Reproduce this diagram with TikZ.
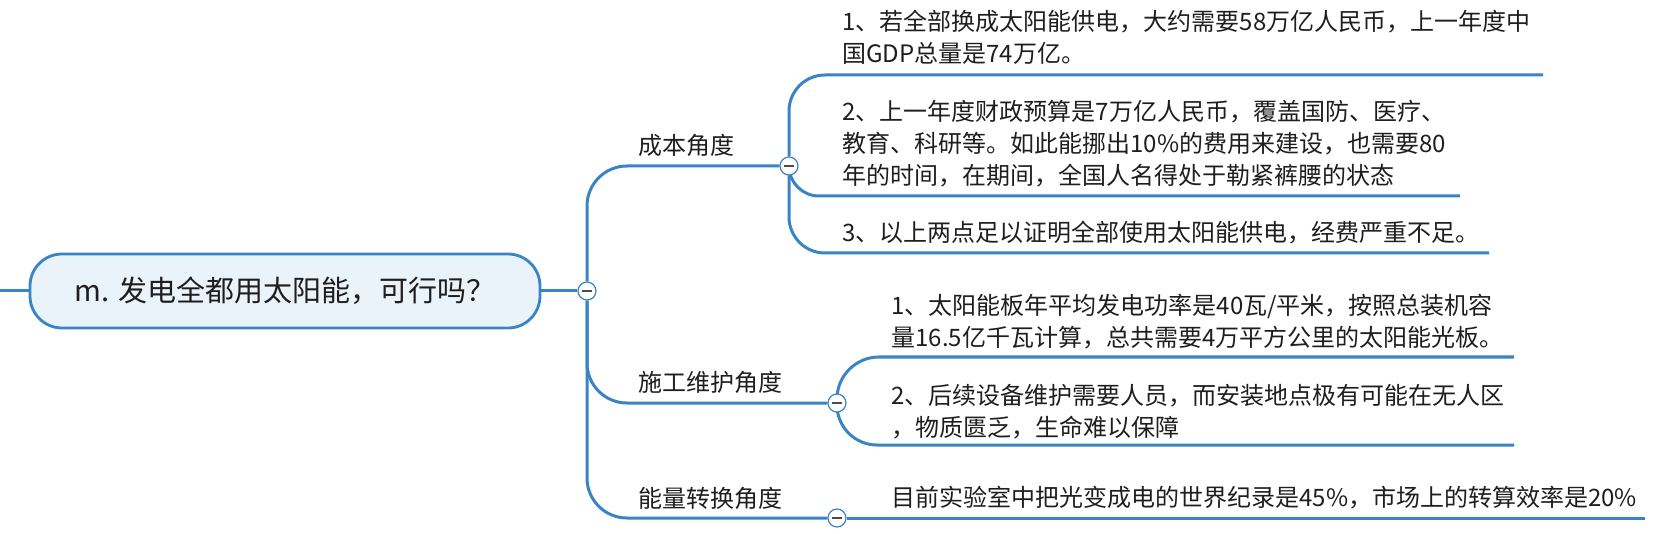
\documentclass[tikz,border=0pt]{standalone}
\usepackage{fontspec}
\setmainfont{Noto Sans CJK SC}
\usetikzlibrary{backgrounds}
\definecolor{mapblue}{HTML}{3A84C4}
\definecolor{rootfill}{HTML}{EAF2FA}
\definecolor{inkgray}{HTML}{1E1E1E}

\begin{document}
\begin{tikzpicture}[x=0.5pt,y=-0.5pt,
	branch/.style={draw=mapblue,line width=1.5pt},
	rootbox/.style={draw=mapblue,line width=1.4pt,fill=rootfill,rounded corners=16pt,
		minimum width=255pt,minimum height=37pt,inner sep=0pt,
		font=\fontsize{14.5}{16}\selectfont,text=inkgray},
	hub/.style={circle,draw=mapblue,line width=0.6pt,fill=white,minimum size=9pt,inner sep=0pt,
		path picture={\draw[line width=0.6pt,black!70]
			([xshift=-2.5pt]path picture bounding box.center) --
			([xshift=2.5pt]path picture bounding box.center);}},
	topic/.style={anchor=base west,inner sep=0pt,font=\fontsize{12}{16}\selectfont,text=inkgray},
	leaf/.style={anchor=base west,inner sep=0pt,align=left,font=\fontsize{12}{16}\selectfont,text=inkgray}]
	\useasboundingbox (0,0) rectangle (1671,534);

	%ROOT
	\node[rootbox] (root) at (285,291) {m. 发电全都用太阳能，可行吗？};
	\coordinate (stub) at (0,291);

	%HUBS
	\node[hub] (c0) at (587,291) {};
	\node[hub] (c1) at (789,166) {};
	\node[hub] (c2) at (837,403) {};
	\node[hub] (c3) at (837,518) {};

	%LABELS
	\node[topic] (l1) at (638,155) {成本角度};
	\node[topic] (l2) at (638,392) {施工维护角度};
	\node[topic] (l3) at (638,507) {能量转换角度};

	%LEAVES (placed by the baseline of their last line)
	\node[leaf] (t11) at (842,63)  {1、若全部换成太阳能供电，大约需要58万亿人民币，上一年度中\\国GDP总量是74万亿。};
	\node[leaf] (t12) at (842,185) {2、上一年度财政预算是7万亿人民币，覆盖国防、医疗、\\教育、科研等。如此能挪出10\%的费用来建设，也需要80\\年的时间，在期间，全国人名得处于勒紧裤腰的状态};
	\node[leaf] (t13) at (842,242) {3、以上两点足以证明全部使用太阳能供电，经费严重不足。};
	\node[leaf] (t21) at (891,346) {1、太阳能板年平均发电功率是40瓦/平米，按照总装机容\\量16.5亿千瓦计算，总共需要4万平方公里的太阳能光板。};
	\node[leaf] (t22) at (891,436) {2、后续设备维护需要人员，而安装地点极有可能在无人区\\，物质匮乏，生命难以保障};
	\node[leaf] (t31) at (891,506) {目前实验室中把光变成电的世界纪录是45\%，市场上的转算效率是20\%};

	%underline ends
	\coordinate (e11) at (1543,75);
	\coordinate (e12) at (1460,196);
	\coordinate (e13) at (1489,253);
	\coordinate (e21) at (1514,357);
	\coordinate (e22) at (1514,445);
	\coordinate (e31) at (1645,518);

	%CONNECTORS
	\begin{pgfonlayer}{background}
	\draw[branch] (stub) -- (root.west);
	\draw[branch] (root.east) -- (c0);
	\draw[branch,rounded corners=20pt] (c0) |- (c1);
	\draw[branch,rounded corners=20pt] (c0) |- (c2);
	\draw[branch,rounded corners=20pt] (c0) |- (c3);
	%first topic
	\draw[branch,rounded corners=18pt] (c1) |- (e11);
	\draw[branch,rounded corners=15pt] (c1) |- (e12);
	\draw[branch,rounded corners=18pt] (c1) |- (e13);
	%second topic
	\draw[branch,rounded corners=21pt] (c2) |- (e21);
	\draw[branch,rounded corners=20pt] (c2) |- (e22);
	%third topic
	\draw[branch] (c3) -- (e31);
	\end{pgfonlayer}
\end{tikzpicture}
\end{document}
